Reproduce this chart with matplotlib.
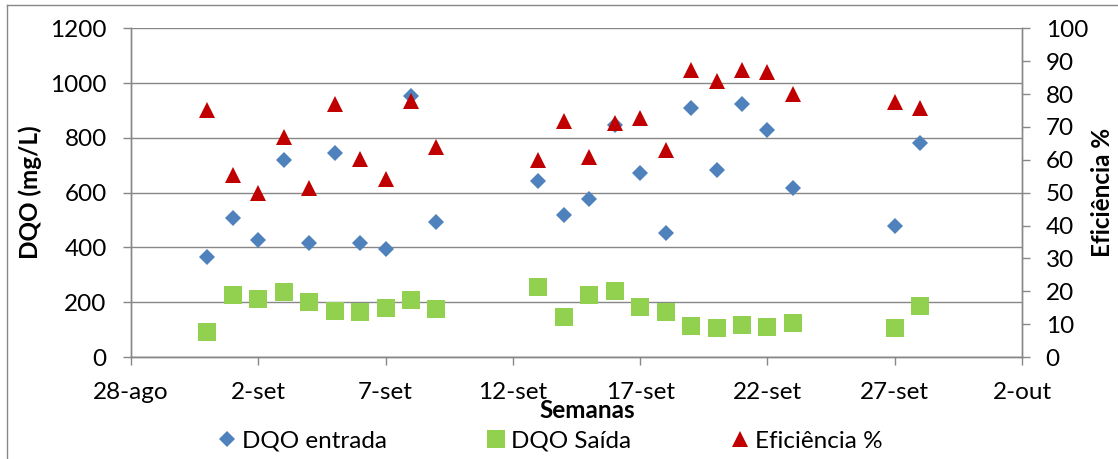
import matplotlib
matplotlib.use('Agg')
import matplotlib.pyplot as plt
import pandas as pd
from matplotlib.lines import Line2D

plt.rcParams['font.family'] = ['Lato', 'DejaVu Sans']

# datas das coletas
datas = ['2012-08-31', '2012-09-01', '2012-09-02', '2012-09-03', '2012-09-04',
         '2012-09-05', '2012-09-06', '2012-09-07', '2012-09-08', '2012-09-09',
         '2012-09-13', '2012-09-14', '2012-09-15', '2012-09-16', '2012-09-17',
         '2012-09-18', '2012-09-19', '2012-09-20', '2012-09-21', '2012-09-22',
         '2012-09-23', '2012-09-27', '2012-09-28']

dqo_entrada = [365, 509, 428, 721, 417, 746, 415, 395, 952, 494, 641, 520,
               576, 846, 671, 452, 908, 683, 922, 827, 618, 478, 782]
dqo_saida = [91, 226, 213, 237, 201, 168, 164, 179, 209, 175, 255, 146,
             227, 242, 182, 164, 113, 106, 117, 109, 124, 106, 187]
eficiencia = [75.1, 55.5, 50.0, 67.0, 51.5, 77.1, 60.3, 54.3, 77.8, 64.0, 59.9,
              71.9, 60.8, 71.3, 72.6, 63.1, 87.4, 84.0, 87.2, 86.7, 80.0, 77.5, 75.8]

tick_datas = ['2012-08-28', '2012-09-02', '2012-09-07', '2012-09-12',
              '2012-09-17', '2012-09-22', '2012-09-27', '2012-10-02']
tick_labels = ['28-ago', '2-set', '7-set', '12-set', '17-set', '22-set', '27-set', '2-out']

x = pd.to_datetime(datas)
xt = pd.to_datetime(tick_datas)

grid_color = '#878787'
fs = 17.5
W, H = 1118, 459

figure = plt.figure(figsize=(W / 100, H / 100), dpi=100)
axes = figure.add_axes([131 / W, 102 / H, 891 / W, 328.7 / H])
axes2 = axes.twinx()

l1, = axes.plot(x, dqo_entrada, linestyle='none', marker='D', markersize=8.4,
                color='#4F81BD', markeredgewidth=0, label='DQO entrada', zorder=3)
l2, = axes.plot(x, dqo_saida, linestyle='none', marker='s', markersize=13.2,
                color='#92D050', markeredgewidth=0, label='DQO Saída', zorder=3)
l3, = axes2.plot(x, eficiencia, linestyle='none', marker='^', markersize=12,
                 color='#C00000', markeredgewidth=0, label='Eficiência %', zorder=3)

axes.set_xlim(xt[0], xt[-1])
axes.set_ylim(0, 1200)
axes.set_yticks(range(0, 1201, 200))
axes.set_xticks(xt)
axes.set_xticklabels(tick_labels)
axes2.set_ylim(0, 100)
axes2.set_yticks(range(0, 101, 10))

axes.grid(axis='y', color=grid_color, linewidth=1.0)
axes.set_axisbelow(True)

for ax in (axes, axes2):
    ax.spines['top'].set_visible(False)
    for side in ('left', 'right', 'bottom'):
        ax.spines[side].set_color(grid_color)
        ax.spines[side].set_linewidth(1.0)
    ax.tick_params(length=6, width=1.0, color=grid_color, labelsize=fs,
                   labelcolor='black')

axes.tick_params(axis='y', pad=11.5)
axes.tick_params(axis='x', pad=12)
axes2.tick_params(axis='y', pad=11)

figure.text(30 / W, 1 - 192 / H, 'DQO (mg/L)', fontsize=fs, fontweight='bold',
            rotation=90, ha='center', va='center')
figure.text(1102 / W, 1 - 192 / H, 'Eficiência %', fontsize=fs, fontweight='bold',
            rotation=90, ha='center', va='center')
figure.text(587 / W, 1 - 410 / H, 'Semanas', fontsize=fs, fontweight='bold',
            ha='center', va='center')

figure.legend(handles=[l1, l2, l3], loc='center', bbox_to_anchor=(550 / W, 1 - 441 / H),
              ncol=3, frameon=False, fontsize=fs, handlelength=0.8,
              handletextpad=0.2, columnspacing=4.1, borderaxespad=0, borderpad=0)

# moldura da área do gráfico
figure.add_artist(Line2D([7 / W, 7 / W], [0, 1 - 5 / H],
                         transform=figure.transFigure, color=grid_color, linewidth=1.0))
figure.add_artist(Line2D([7 / W, 1], [1 - 5 / H, 1 - 5 / H],
                         transform=figure.transFigure, color=grid_color, linewidth=1.0))

figure.savefig('out.png', dpi=100)
